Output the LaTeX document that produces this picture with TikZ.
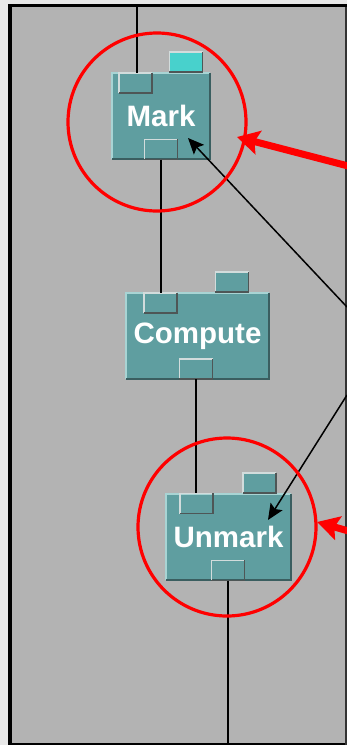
\documentclass[tikz,border=0pt]{standalone}
\usepackage{fontspec}
\setmainfont{Liberation Sans}
\usetikzlibrary{arrows.meta}
\definecolor{canvas}{HTML}{B3B3B3}
\definecolor{outside}{HTML}{E8E8E8}
\definecolor{modteal}{HTML}{5F9EA0}
\definecolor{modcyan}{HTML}{48D1CC}
\definecolor{bevelhi}{HTML}{A8D4D4}
\definecolor{bevello}{HTML}{3A5E60}
\definecolor{porthi}{HTML}{D2DCDC}
\definecolor{portlo}{HTML}{4E5656}
\tikzset{
  module/.style={fill=modteal, inner sep=0pt, minimum height=86pt,
    text=white, font=\fontsize{29.5}{30}\selectfont\bfseries},
  port/.style={fill=modteal, inner sep=0pt, minimum width=33pt, minimum height=20pt},
  wire/.style={line width=1.5pt, black},
  pointer/.style={line width=1.5pt, black, -{Stealth[length=16pt,width=14pt,inset=3pt]}},
  ring/.style={draw=red, line width=3.2pt, circle, minimum size=178pt, inner sep=0pt},
  callout/.style={draw=red, line width=7pt, -{Stealth[length=22pt,width=24pt,inset=4pt]}},
}
\begin{document}
\begin{tikzpicture}[x=1pt,y=-1pt]
\useasboundingbox (0,0) rectangle (347,745);
\clip (0,0) rectangle (347,745);
% window frame and canvas
\fill[outside] (0,0) rectangle (347,745);
\fill[black] (8,4) rectangle (347,745);
\fill[canvas] (12,7) rectangle (345,743);
\fill[black!80] (345,7) rectangle (347,745);

% modules
\node[module, minimum width=98pt] (mark) at (161,116) {Mark};
\node[module, minimum width=143pt] (comp) at (197.5,336) {Compute};
\node[module, minimum width=125pt] (unmark) at (228.5,537) {Unmark};

% ports
\node[port] (mark-in) at (135.5,83) {};
\node[port, fill=modcyan] (mark-par) at (186,62) {};
\node[port] (mark-out) at (161,149.5) {};
\node[port] (comp-in) at (160.5,303) {};
\node[port] (comp-par) at (232,282) {};
\node[port] (comp-out) at (196,369) {};
\node[port] (unmark-in) at (196.5,503.5) {};
\node[port] (unmark-par) at (259.5,483) {};
\node[port] (unmark-out) at (228,570.5) {};

% module bevels
\foreach \m in {mark,comp,unmark}{
  \draw[bevelhi, line width=1.5pt] (\m.south west) |- (\m.north east);
  \draw[bevello, line width=2pt] (\m.north east) |- (\m.south west);
}
% port bevels
\foreach \p in {mark-in,mark-par,mark-out,comp-in,comp-par,comp-out,unmark-in,unmark-par,unmark-out}{
  \draw[porthi, line width=1.5pt] (\p.south west) |- (\p.north east);
  \draw[portlo, line width=1.5pt] (\p.north east) |- (\p.south west);
}

% wires between modules
\coordinate (src) at (137,7);
\coordinate (sink) at (228,743);
\draw[wire] (src) -- (src |- mark-in.north);
\draw[wire] (mark-out.south) -- (mark-out.south |- comp-in.north);
\draw[wire] (comp-out.south) -- (comp-out.south |- unmark-in.north);
\draw[wire] (unmark-out.south) -- (sink);

% pointers into the modules
\coordinate (p1) at (347,307);
\coordinate (t1) at (188,138);
\coordinate (p2) at (347,395);
\coordinate (t2) at (268,520);
\draw[pointer] (p1) -- (t1);
\draw[pointer] (p2) -- (t2);

% highlight rings and callouts
\node[ring] (ring1) at (157,122) {};
\node[ring] (ring2) at (227,527) {};
\coordinate (c1) at (352,167);
\coordinate (e1) at (237,137);
\coordinate (c2) at (352,532);
\coordinate (e2) at (317,522);
\draw[callout] (c1) -- (e1);
\draw[callout] (c2) -- (e2);
\end{tikzpicture}
\end{document}
